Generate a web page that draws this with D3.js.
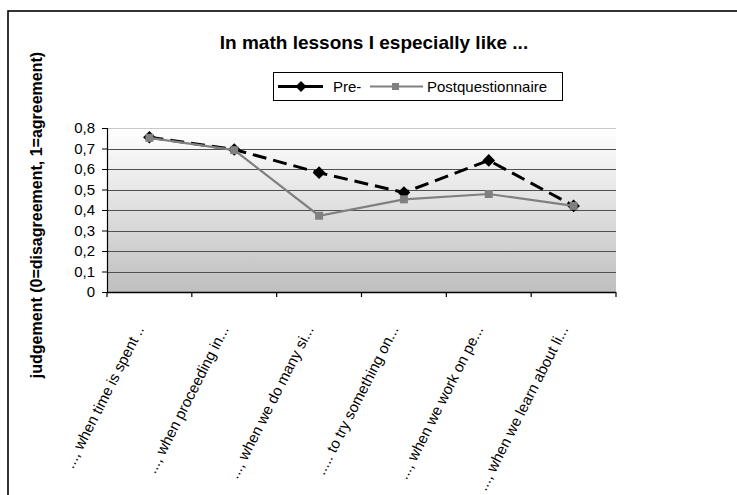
<!DOCTYPE html>
<html>
<head>
<meta charset="utf-8">
<script src="https://cdn.jsdelivr.net/npm/d3@7"></script>
<style>
  html, body { margin: 0; padding: 0; background: #fff; }
  svg { display: block; font-family: Arial, "Liberation Sans", sans-serif; }
</style>
</head>
<body>
<svg id="chart" width="737" height="495"></svg>
<script>
const categories = [
  "..., when time is spent ..",
  "..., when proceeding in...",
  "..., when we do many si...",
  "..... to try something on...",
  "..., when we work on pe...",
  "..., when we learn about li..."
];
const preValues = [0.755, 0.695, 0.582, 0.485, 0.642, 0.420];
const postValues = [0.752, 0.692, 0.372, 0.452, 0.478, 0.420];
const yTicks = [0, 0.1, 0.2, 0.3, 0.4, 0.5, 0.6, 0.7, 0.8];
const seriesNames = ["Pre-", "Postquestionnaire"];
const titleText = "In math lessons I especially  like ...";
const yTitle = "judgement (0=disagreement, 1=agreement)";

const svg = d3.select("#chart");
const plot = { left: 107, right: 616, top: 128, bottom: 292 };

// outer frame
svg.append("rect")
  .attr("x", 8).attr("y", 11).attr("width", 900).attr("height", 700)
  .attr("fill", "#fff").attr("stroke", "#000").attr("stroke-width", 1.6);

const x = d3.scaleBand().domain(categories).range([plot.left, plot.right]).padding(0);
const y = d3.scaleLinear().domain([0, 0.8]).range([plot.bottom, plot.top]);

// gradient background
const defs = svg.append("defs");
const grad = defs.append("linearGradient").attr("id", "bg")
  .attr("x1", 0).attr("y1", 0).attr("x2", 0).attr("y2", 1);
grad.append("stop").attr("offset", "0%").attr("stop-color", "#ffffff");
grad.append("stop").attr("offset", "100%").attr("stop-color", "#bfbfbf");

svg.append("rect")
  .attr("x", plot.left).attr("y", plot.top)
  .attr("width", plot.right - plot.left).attr("height", plot.bottom - plot.top)
  .attr("fill", "url(#bg)");

// gridlines
svg.append("g").selectAll("line").data(yTicks.filter(d => d > 0)).join("line")
  .attr("x1", plot.left).attr("x2", plot.right)
  .attr("y1", d => Math.round(y(d)) + 0.5).attr("y2", d => Math.round(y(d)) + 0.5)
  .attr("stroke", d => d === 0.8 ? "#c8c8c8" : "#505050")
  .attr("stroke-width", 1.2);

// axes
const fmt = d => d === 0 ? "0" : d3.format(".1f")(d).replace(".", ",");
const yAxis = svg.append("g")
  .attr("transform", `translate(${plot.left},0)`)
  .call(d3.axisLeft(y).tickValues(yTicks).tickFormat(fmt).tickSize(5).tickPadding(7));
yAxis.select(".domain").attr("stroke", "#000").attr("stroke-width", 1.2);
yAxis.selectAll(".tick line").attr("stroke", "#000");
yAxis.selectAll("text").attr("font-size", 15).attr("fill", "#000")
  .attr("font-family", "Arial, 'Liberation Sans', sans-serif");

const xAxis = svg.append("g")
  .attr("transform", `translate(0,${plot.bottom})`);
xAxis.append("line")
  .attr("x1", plot.left).attr("x2", plot.right).attr("y1", 0.5).attr("y2", 0.5)
  .attr("stroke", "#000").attr("stroke-width", 1.5);
const boundaries = categories.map(c => x(c)).concat([x(categories[categories.length - 1]) + x.bandwidth()]);
xAxis.selectAll("line.tk").data(boundaries).join("line").attr("class", "tk")
  .attr("x1", d => d).attr("x2", d => d).attr("y1", 0).attr("y2", 5)
  .attr("stroke", "#000").attr("stroke-width", 1.2);

svg.append("g").selectAll("text").data(categories).join("text")
  .attr("transform", d => `translate(${x(d) + x.bandwidth() / 2 - 5},${plot.bottom + 37}) rotate(-63)`)
  .attr("text-anchor", "end")
  .attr("font-size", 15)
  .attr("fill", "#000")
  .text(d => d);

// y title
svg.append("text")
  .attr("transform", `translate(42,215) rotate(-90)`)
  .attr("text-anchor", "middle")
  .attr("font-size", 16).attr("font-weight", "bold")
  .text(yTitle);

// title
svg.append("text")
  .attr("x", 374).attr("y", 49)
  .attr("text-anchor", "middle")
  .attr("font-size", 19).attr("font-weight", "bold")
  .text(titleText);

// series
const cx = (d, i) => x(categories[i]) + x.bandwidth() / 2;
const line = d3.line().x((d, i) => cx(d, i)).y(d => y(d));

svg.append("path").datum(preValues)
  .attr("d", line).attr("fill", "none")
  .attr("stroke", "#000").attr("stroke-width", 3).attr("stroke-dasharray", "14,7");

svg.append("g").selectAll("path").data(preValues).join("path")
  .attr("d", d3.symbol().type(d3.symbolSquare).size(80)())
  .attr("transform", (d, i) => `translate(${cx(d, i)},${y(d)}) rotate(45)`)
  .attr("fill", "#000");

svg.append("path").datum(postValues)
  .attr("d", line).attr("fill", "none")
  .attr("stroke", "#808080").attr("stroke-width", 2.2);

svg.append("g").selectAll("rect").data(postValues).join("rect")
  .attr("x", (d, i) => cx(d, i) - 4).attr("y", d => y(d) - 4)
  .attr("width", 8).attr("height", 8)
  .attr("fill", "#808080");

// legend
const lg = svg.append("g");
lg.append("rect").attr("x", 273.5).attr("y", 72.5).attr("width", 289).attr("height", 28)
  .attr("fill", "#fff").attr("stroke", "#000").attr("stroke-width", 1);
const ly = 86.5;
lg.append("line").attr("x1", 278).attr("x2", 323).attr("y1", ly).attr("y2", ly)
  .attr("stroke", "#000").attr("stroke-width", 3);
lg.append("path").attr("d", d3.symbol().type(d3.symbolSquare).size(60)())
  .attr("transform", `translate(301,${ly}) rotate(45)`).attr("fill", "#000");
lg.append("text").attr("x", 333).attr("y", ly + 5.5).attr("font-size", 15).text(seriesNames[0]);
lg.append("line").attr("x1", 370).attr("x2", 423).attr("y1", ly).attr("y2", ly)
  .attr("stroke", "#808080").attr("stroke-width", 2.2);
lg.append("rect").attr("x", 392).attr("y", ly - 3.5).attr("width", 7).attr("height", 7).attr("fill", "#808080");
lg.append("text").attr("x", 427).attr("y", ly + 5.5).attr("font-size", 15).text(seriesNames[1]);
</script>
</body>
</html>
